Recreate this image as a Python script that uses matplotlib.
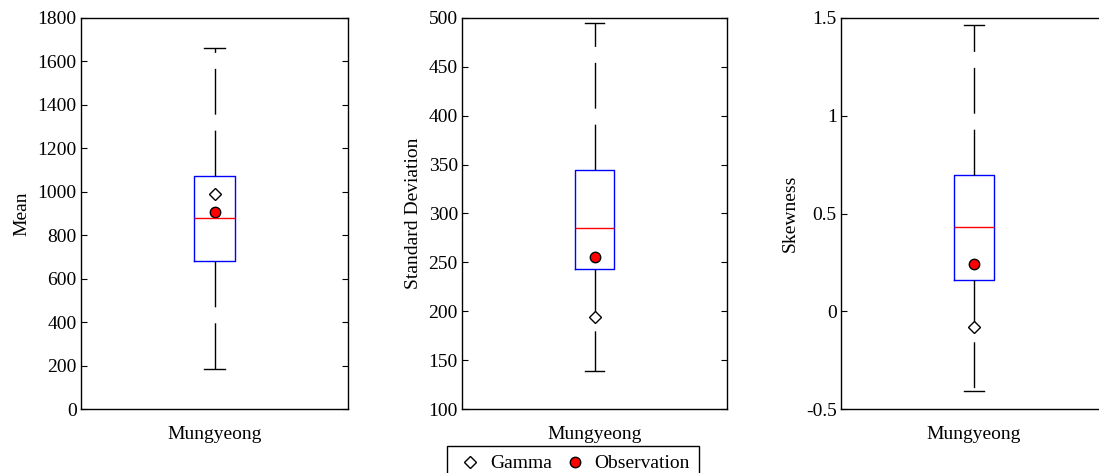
import matplotlib
matplotlib.use('Agg')
import matplotlib.pyplot as plt
from matplotlib.lines import Line2D

plt.rcParams['font.family'] = ['Liberation Serif', 'DejaVu Serif']
plt.rcParams['axes.unicode_minus'] = False

# ===== data =====
station = 'Mungyeong'
stat_names = ['Mean', 'Standard Deviation', 'Skewness']
whis_low = [185, 139, -0.41]
q1_vals = [680, 243, 0.161]
medians = [878, 285, 0.431]
q3_vals = [1074, 345, 0.698]
whis_high = [1663, 495, 1.466]
gamma_vals = [990, 194, -0.081]
obs_vals = [907, 256, 0.243]
y_limits = [(0, 1800), (100, 500), (-0.5, 1.5)]
y_ticks = [[0, 200, 400, 600, 800, 1000, 1200, 1400, 1600, 1800],
           [100, 150, 200, 250, 300, 350, 400, 450, 500],
           [-0.5, 0, 0.5, 1, 1.5]]
y_ticklabels = [None, None, ['-0.5', '0', '0.5', '1', '1.5']]

fig = plt.figure(figsize=(10.99, 4.73), dpi=100)
lefts = [81, 462, 841]
widths = [267, 265, 266]

for i in range(3):
    ax = fig.add_axes([lefts[i] / 1099, 64 / 473, widths[i] / 1099, 391 / 473])
    stats = [{'med': medians[i], 'q1': q1_vals[i], 'q3': q3_vals[i],
              'whislo': whis_low[i], 'whishi': whis_high[i], 'fliers': []}]
    ax.bxp(stats, positions=[1], widths=0.15, capwidths=0.075,
           boxprops=dict(color='blue', linewidth=1),
           medianprops=dict(color='red', linewidth=1),
           whiskerprops=dict(color='black', linewidth=1, linestyle=(0, (33, 11.5))),
           capprops=dict(color='black', linewidth=1))
    ax.plot([1], [gamma_vals[i]], linestyle='none', marker='D', markersize=6.5,
            markerfacecolor='white', markeredgecolor='black', markeredgewidth=1)
    ax.plot([1], [obs_vals[i]], linestyle='none', marker='o', markersize=7.5,
            markerfacecolor='red', markeredgecolor='black', markeredgewidth=1)
    ax.set_xlim(0.5, 1.5)
    ax.set_ylim(*y_limits[i])
    ax.set_yticks(y_ticks[i])
    if y_ticklabels[i] is not None:
        ax.set_yticklabels(y_ticklabels[i])
    ax.set_xticks([1])
    ax.set_xticklabels([station])
    ax.tick_params(axis='y', direction='in', left=True, right=True, length=4,
                   labelsize=14, pad=3)
    ax.tick_params(axis='x', length=0, labelsize=14, pad=12)
    ax.set_ylabel(stat_names[i], fontsize=14, labelpad=5)
    for sp in ax.spines.values():
        sp.set_linewidth(1)

handles = [Line2D([], [], linestyle='none', marker='D', markersize=6.5,
                  markerfacecolor='white', markeredgecolor='black'),
           Line2D([], [], linestyle='none', marker='o', markersize=7.5,
                  markerfacecolor='red', markeredgecolor='black')]
leg = fig.legend(handles, ['Gamma', 'Observation'], ncol=2, loc='upper left',
                 bbox_to_anchor=(447 / 1099, 1 - 446 / 473), fontsize=14,
                 frameon=True, fancybox=False, edgecolor='black', framealpha=1,
                 borderpad=0.45, handletextpad=0.25, columnspacing=0.45,
                 handlelength=1.5, borderaxespad=0)
leg.get_frame().set_linewidth(1)

fig.savefig('out.png', dpi=100)
